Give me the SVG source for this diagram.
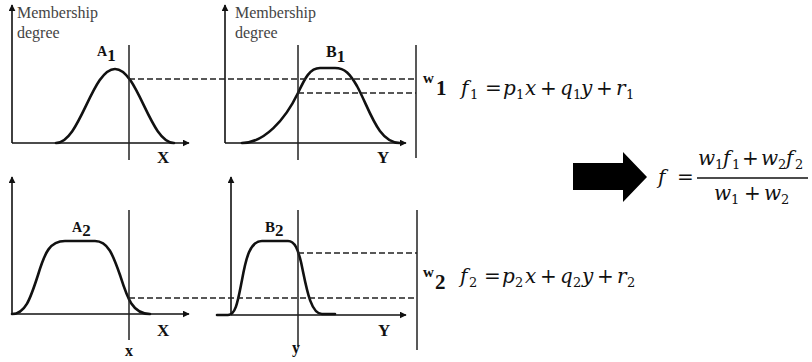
<svg xmlns="http://www.w3.org/2000/svg" width="812" height="362" viewBox="0 0 812 362">
<defs>
<marker id="ah" viewBox="0 0 10 10" refX="9" refY="5" markerWidth="7" markerHeight="7" markerUnits="userSpaceOnUse" orient="auto">
<path d="M0,0 L10,5 L0,10 z" fill="#111"/>
</marker>
<style>
.ax{stroke:#111;stroke-width:1.6;fill:none;marker-end:url(#ah)}
.cv{stroke:#111;stroke-width:2.6;fill:none;stroke-linejoin:round;stroke-linecap:round}
.vl{stroke:#222;stroke-width:1.5;fill:none}
.ds{stroke:#222;stroke-width:1.3;fill:none;stroke-dasharray:6,3}
.lbl{font-family:"Liberation Serif","Times New Roman",serif;font-size:16px;fill:#444}
.nm{font-family:"Liberation Serif","Times New Roman",serif;font-weight:bold;fill:#111}
.ax-t{font-family:"Liberation Serif","Times New Roman",serif;font-weight:bold;font-size:17px;fill:#111}
.mth{font-family:"DejaVu Serif","Liberation Serif",serif;font-style:italic;font-size:20px;fill:#111}
.up{font-style:normal}
.sb{font-style:normal;font-size:13px}
</style>
</defs>

<g id="panel-A1">
<line class="ax" x1="12" y1="143" x2="12" y2="5"/>
<line class="ax" x1="12" y1="143" x2="189" y2="143"/>
<text class="lbl" x="17" y="18">Membership</text>
<text class="lbl" x="17" y="38">degree</text>
<path class="cv" d="M 56 143 C 80 143, 92 69, 115 69 C 138 69, 150 143, 174 143"/>
<line class="vl" x1="129" y1="45" x2="129" y2="160"/>
<text class="nm" x="97" y="56" font-size="14">A<tspan font-size="17" dy="5">1</tspan></text>
<text class="ax-t" x="157" y="163">X</text>
</g>

<g id="panel-B1">
<line class="ax" x1="225" y1="143" x2="225" y2="5"/>
<line class="ax" x1="225" y1="143" x2="406" y2="143"/>
<text class="lbl" x="235" y="18">Membership</text>
<text class="lbl" x="235" y="38">degree</text>
<path class="cv" d="M 242 143 C 264 143, 285 120, 298 93 C 305 78, 310 68, 320 68 L 335 68 C 345 68, 350 74, 357 86 C 370 110, 378 143, 400 143"/>
<line class="vl" x1="298" y1="45" x2="298" y2="160"/>
<line class="vl" x1="416" y1="45" x2="416" y2="158"/>
<text class="nm" x="326" y="57" font-size="16">B<tspan font-size="17" dy="5">1</tspan></text>
<text class="ax-t" x="377" y="163">Y</text>
</g>

<g id="panel-A2">
<line class="ax" x1="12" y1="314" x2="12" y2="177"/>
<line class="ax" x1="12" y1="314" x2="189" y2="314"/>
<path class="cv" d="M 12 314 C 25 314, 30 300, 38 275 C 45 252, 50 241, 65 241 L 95 241 C 108 241, 113 255, 120 275 C 127 297, 132 314, 150 314"/>
<line class="vl" x1="129" y1="210" x2="129" y2="340"/>
<text class="nm" x="72" y="232" font-size="14">A<tspan font-size="17" dy="4">2</tspan></text>
<text class="ax-t" x="157" y="336">X</text>
<text class="nm" x="125" y="356" font-size="16">x</text>
</g>

<g id="panel-B2">
<line class="ax" x1="231" y1="315" x2="231" y2="177"/>
<line class="ax" x1="231" y1="315" x2="406" y2="315"/>
<path class="cv" d="M 217 315 L 228 315 C 236 315, 238 300, 242 280 C 246 258, 250 241, 262 241 L 288 241 C 295 241, 298 250, 301 262 C 306 285, 310 314, 322 314 L 335 314"/>
<line class="vl" x1="298" y1="210" x2="298" y2="347"/>
<line class="vl" x1="417" y1="210" x2="417" y2="350"/>
<text class="nm" x="265" y="232" font-size="15">B<tspan font-size="17" dy="4">2</tspan></text>
<text class="ax-t" x="378" y="336">Y</text>
<text class="nm" x="292" y="353" font-size="16">y</text>
</g>

<g id="connectors">
<line class="ds" x1="129" y1="79" x2="416" y2="79"/>
<line class="ds" x1="298" y1="93" x2="416" y2="93"/>
<line class="ds" x1="298" y1="253" x2="417" y2="253"/>
<line class="ds" x1="129" y1="298" x2="417" y2="298"/>
</g>

<g id="rule-1">
<text class="nm" x="423" y="83" font-size="15" font-weight="normal">w</text>
<text class="nm" x="436" y="95" font-size="21">1</text>
<text class="mth" y="95"><tspan x="461">f</tspan><tspan class="sb" x="470" y="99">1</tspan><tspan class="up" x="485" y="95">=</tspan><tspan x="503">p</tspan><tspan class="sb" x="516" y="99">1</tspan><tspan x="525" y="95">x</tspan><tspan class="up" x="540">+</tspan><tspan x="560">q</tspan><tspan class="sb" x="573" y="99">1</tspan><tspan x="581" y="95">y</tspan><tspan class="up" x="596">+</tspan><tspan x="616">r</tspan><tspan class="sb" x="626" y="99">1</tspan></text>
</g>

<g id="rule-2">
<text class="nm" x="423" y="277" font-size="15" font-weight="normal">w</text>
<text class="nm" x="435" y="289" font-size="21">2</text>
<text class="mth" y="283"><tspan x="460">f</tspan><tspan class="sb" x="469" y="287">2</tspan><tspan class="up" x="484" y="283">=</tspan><tspan x="502">p</tspan><tspan class="sb" x="515" y="287">2</tspan><tspan x="525" y="283">x</tspan><tspan class="up" x="540">+</tspan><tspan x="560">q</tspan><tspan class="sb" x="573" y="287">2</tspan><tspan x="582" y="283">y</tspan><tspan class="up" x="597">+</tspan><tspan x="617">r</tspan><tspan class="sb" x="627" y="287">2</tspan></text>
</g>

<g id="arrow">
<polygon points="573,163 623,163 623,152 647,177 623,202 623,190 573,190" fill="#000"/>
</g>

<g id="output">
<text class="mth" x="658" y="184" font-size="23">f</text>
<text class="mth up" x="677" y="184">=</text>
<line x1="697" y1="178" x2="808" y2="178" stroke="#111" stroke-width="1.3"/>
<text class="mth" y="165"><tspan x="698">w</tspan><tspan class="sb" x="715" y="169">1</tspan><tspan x="723" y="165">f</tspan><tspan class="sb" x="732" y="169">1</tspan><tspan class="up" x="742" y="165">+</tspan><tspan x="761">w</tspan><tspan class="sb" x="778" y="169">2</tspan><tspan x="786" y="165">f</tspan><tspan class="sb" x="795" y="169">2</tspan></text>
<text class="mth" y="200"><tspan x="714">w</tspan><tspan class="sb" x="731" y="204">1</tspan><tspan class="up" x="744" y="200">+</tspan><tspan x="764">w</tspan><tspan class="sb" x="781" y="204">2</tspan></text>
</g>
</svg>
